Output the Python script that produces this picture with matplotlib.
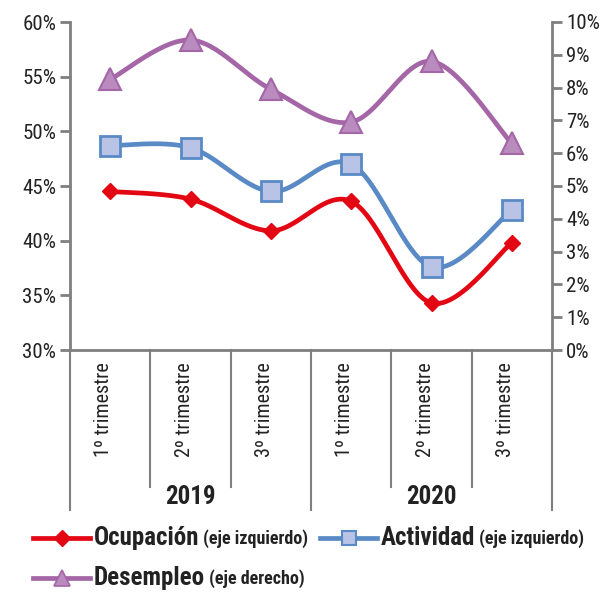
import os
import numpy as np
import matplotlib
matplotlib.use("Agg")
import matplotlib.pyplot as plt
from matplotlib.lines import Line2D
import matplotlib.transforms as mtransforms
from matplotlib import font_manager as fm

files = [f.fname for f in fm.fontManager.ttflist]
names = sorted(set(os.path.basename(f) for f in files))

def find(keys):
    for k in keys:
        for f in files:
            b = os.path.basename(f).lower()
            if all(p in b for p in k):
                return f
    return None

reg = find([("liberationsansnarrow-regular",), ("robotocondensed-regular",), ("opensans_condensed-regular",),
            ("opensans-condensedregular",), ("notosans-condensed.",), ("notosans-condensed",),
            ("dejavusanscondensed.ttf",)])
bold = find([("liberationsansnarrow-bold.",), ("robotocondensed-bold.",), ("opensans_condensed-bold.",),
             ("notosans-condensedbold",), ("dejavusanscondensed-bold",)])

def FP(b=False):
    f = bold if b else reg
    if f:
        return fm.FontProperties(fname=f)
    return fm.FontProperties(family='DejaVu Sans', weight='bold' if b else 'normal')

years = ["2019", "2020"]
quarters = ["1º trimestre", "2º trimestre", "3º trimestre",
            "1º trimestre", "2º trimestre", "3º trimestre"]
ocupacion = [44.5, 43.8, 40.9, 43.6, 34.3, 39.8]
actividad = [48.7, 48.5, 44.5, 47.0, 37.6, 42.8]
desempleo = [8.25, 9.45, 7.95, 6.95, 8.8, 6.3]

RED = "#E30613"
BLUE = "#5A8AC6"
BLUE_FACE = "#B9C3E5"
PURPLE = "#A466A6"
PURPLE_FACE = "#B98BBE"
AXC = "#7F7F7F"
TXT = "#222222"


def smooth(x, y, n=30):
    pts = np.column_stack([np.asarray(x, float), np.asarray(y, float)])
    out = []
    for i in range(len(pts) - 1):
        p0 = pts[i - 1] if i > 0 else pts[i]
        p1 = pts[i]
        p2 = pts[i + 1]
        p3 = pts[i + 2] if i + 2 < len(pts) else pts[i + 1]
        c1 = p1 + (p2 - p0) / 6.0
        c2 = p2 - (p3 - p1) / 6.0
        t = np.linspace(0, 1, n)[:, None]
        seg = ((1 - t) ** 3) * p1 + 3 * ((1 - t) ** 2) * t * c1 + 3 * (1 - t) * t ** 2 * c2 + t ** 3 * p2
        if i > 0:
            seg = seg[1:]
        out.append(seg)
    s = np.vstack(out)
    return s[:, 0], s[:, 1]


fig = plt.figure(figsize=(6.1, 5.93), dpi=100)
ax = fig.add_axes([70 / 610, 1 - 350 / 593, (552 - 70) / 610, (350 - 22) / 593])
ax2 = ax.twinx()

xs = np.arange(len(quarters)) + 0.5

lw = 3.4
sx, sy = smooth(xs, ocupacion)
ax.plot(sx, sy, color=RED, lw=lw, solid_capstyle='round', zorder=3)
ax.plot(xs, ocupacion, ls='none', marker='D', ms=8, color=RED, mec=RED, zorder=4)
sx, sy = smooth(xs, actividad)
ax.plot(sx, sy, color=BLUE, lw=lw, solid_capstyle='round', zorder=3)
ax.plot(xs, actividad, ls='none', marker='s', ms=14, mfc=BLUE_FACE, mec=BLUE, mew=2, zorder=4)
sx, sy = smooth(xs, desempleo)
ax2.plot(sx, sy, color=PURPLE, lw=lw, solid_capstyle='round', zorder=3)
ax2.plot(xs, desempleo, ls='none', marker='^', ms=16, mfc=PURPLE_FACE, mec=PURPLE, mew=1.5, zorder=4)

ax.set_xlim(0, 6)
ax.set_ylim(30, 60)
ax2.set_ylim(0, 10)
ax.set_yticks(np.arange(30, 61, 5))
ax.set_yticklabels([f"{v}%" for v in range(30, 61, 5)], fontproperties=FP(), fontsize=15)
ax2.set_yticks(np.arange(0, 11, 1))
ax2.set_yticklabels([f"{v}%" for v in range(0, 11)], fontproperties=FP(), fontsize=15)

for a in (ax, ax2):
    a.spines['top'].set_visible(False)
    for s in ('left', 'right', 'bottom'):
        a.spines[s].set_color(AXC)
        a.spines[s].set_linewidth(2)
    a.tick_params(axis='y', colors=AXC, width=2, length=7, labelcolor=TXT, pad=3)
ax.spines['right'].set_visible(False)
ax2.spines['left'].set_visible(False)
ax2.spines['bottom'].set_visible(False)
ax.set_xticks([])
ax.patch.set_visible(False)
ax.set_zorder(ax2.get_zorder() + 1)

trans = mtransforms.blended_transform_factory(ax.transData, ax.transAxes)
inner_bottom = -(487 - 350) / 328
outer_bottom = -(510 - 350) / 328
for b in range(0, 7):
    yb = outer_bottom if b in (0, 3, 6) else inner_bottom
    ax.plot([b, b], [0, yb], color=AXC, lw=1.5, transform=trans, clip_on=False)

for x, q in zip(xs, quarters):
    ax.text(x - 0.08, -12 / 328, q, rotation=90, ha='center', va='top',
            fontproperties=FP(), fontsize=14.5, color=TXT, transform=trans)
for i, yr in enumerate(years):
    ax.text(1.5 + 3 * i, -(497 - 350) / 328, yr, ha='center', va='center',
            fontproperties=FP(True), fontsize=18, color=TXT, transform=trans)


def legend_item(x0, y, color, marker, ms, mfc, mec, mew, label, sub):
    x0f = x0 / 610
    x1f = (x0 + 57) / 610
    yf = 1 - y / 593
    fig.add_artist(Line2D([x0f, x1f], [yf, yf], color=color, lw=lw, transform=fig.transFigure))
    fig.add_artist(Line2D([(x0f + x1f) / 2], [yf], marker=marker, ms=ms, mfc=mfc, mec=mec,
                          mew=mew, ls='none', transform=fig.transFigure))
    t = fig.text((x0 + 61) / 610, yf, label, fontproperties=FP(True), fontsize=18,
                 color=TXT, ha='left', va='center')
    fig.canvas.draw()
    bb = t.get_window_extent()
    fig.text(bb.x1 / fig.bbox.width + 4 / 610, yf - 1 / 593, sub, fontproperties=FP(True),
             fontsize=13, color=TXT, ha='left', va='center')


legend_item(33, 538, RED, 'D', 8, RED, RED, 1, "Ocupación", "(eje izquierdo)")
legend_item(320, 538, BLUE, 's', 10, BLUE_FACE, BLUE, 1.5, "Actividad", "(eje izquierdo)")
legend_item(33, 578, PURPLE, '^', 12, PURPLE_FACE, PURPLE, 1.2, "Desempleo", "(eje derecho)")

fig.text(0.5, 0.005, "", fontsize=1)
fig.savefig("out.png", dpi=100)
print(reg, bold)
